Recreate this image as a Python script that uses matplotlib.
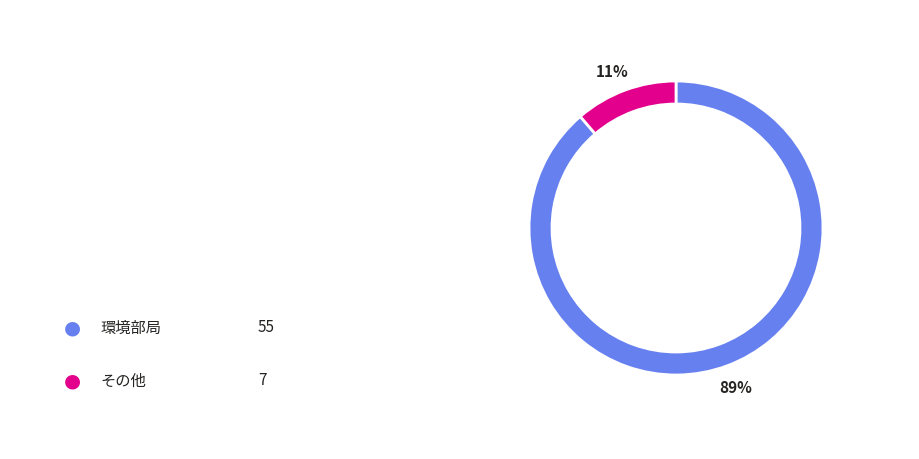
import matplotlib.pyplot as plt

plt.rcParams['font.family'] = ['Noto Sans CJK JP', 'DejaVu Sans']

labels = ["環境部局", "その他"]
values = [55, 7]
colors = ["#6680F0", "#E3008C"]

W, H = 920, 460
fig = plt.figure(figsize=(W / 100, H / 100), dpi=100)

# donut
cx, cy, r = 676, 229, 147
ax = fig.add_axes([(cx - r) / W, (H - cy - r) / H, 2 * r / W, 2 * r / H])
ax.pie(values, colors=colors, startangle=90, counterclock=False,
       wedgeprops=dict(width=23 / r, edgecolor="white", linewidth=2))
ax.set_xlim(-1, 1)
ax.set_ylim(-1, 1)
ax.set_aspect("equal")

total = sum(values)
fig.text(612 / W, 1 - 72 / H, f"{round(values[1] / total * 100)}%",
         ha="center", va="center", fontsize=11, fontweight="bold", color="#252423")
fig.text(736 / W, 1 - 388 / H, f"{round(values[0] / total * 100)}%",
         ha="center", va="center", fontsize=11, fontweight="bold", color="#252423")

# legend
for i, (lab, v, c) in enumerate(zip(labels, values, colors)):
    y = 1 - (328 + i * 53) / H
    fig.patches.append(plt.Circle((72 / W * W, 0), 1))  # placeholder removed below
    fig.patches.pop()
    fig.text(72 / W, y, "●", color=c, ha="center", va="center", fontsize=14,
             family="DejaVu Sans")
    fig.text(100 / W, y, lab, ha="left", va="center", fontsize=11, color="#252423")
    fig.text(258 / W, y, str(v), ha="left", va="center", fontsize=11, color="#252423")

fig.savefig("out.png", dpi=100, facecolor="white")
